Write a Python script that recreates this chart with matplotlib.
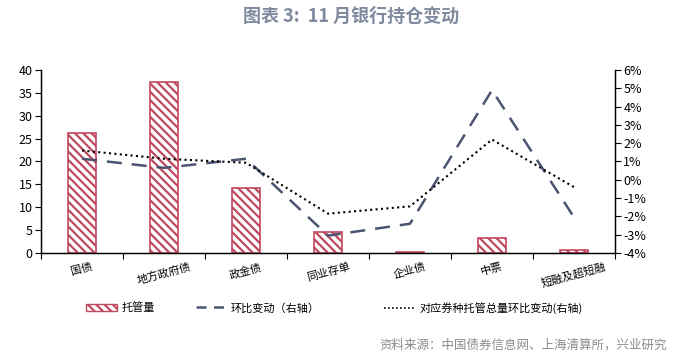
import matplotlib
matplotlib.use('Agg')
import matplotlib.pyplot as plt
from matplotlib.patches import Patch
from matplotlib.lines import Line2D
from matplotlib.ticker import FuncFormatter, MultipleLocator

plt.rcParams['font.family'] = ['Noto Sans CJK SC', 'DejaVu Sans']
plt.rcParams['hatch.linewidth'] = 1.6

# %% 数据
categories = ['国债', '地方政府债', '政金债', '同业存单', '企业债', '中票', '短融及超短融']
holdings = [26.3, 37.3, 14.1, 4.5, 0.2, 3.2, 0.6]          # 托管量
mom_change = [1.15, 0.65, 1.15, -3.05, -2.4, 4.9, -2.05]   # 环比变动(%)
total_mom = [1.6, 1.15, 0.93, -1.85, -1.45, 2.2, -0.4]     # 对应券种托管总量环比变动(%)

red = '#c0485e'
navy = '#4b5572'

# %% 图
fig = plt.figure(figsize=(6.86, 3.57), dpi=100)
ax = fig.add_axes([0.0598, 0.2913, 0.8367, 0.5127])
ax2 = ax.twinx()

x = list(range(len(categories)))
plt.rcParams['hatch.color'] = red
ax.bar(x, holdings, width=0.33, color='white', edgecolor=red, hatch='\\\\\\\\', linewidth=1.2, zorder=2)
ax.set_xlim(-0.5, len(categories) - 0.5)
ax.set_ylim(0, 40)
ax.yaxis.set_major_locator(MultipleLocator(5))

ax2.plot(x, mom_change, color=navy, lw=1.8, dashes=(6, 4), zorder=3)
ax2.plot(x, total_mom, color='black', lw=1.5, linestyle=(0, (1, 1.6)), zorder=3)
ax2.set_ylim(-4, 6)
ax2.yaxis.set_major_locator(MultipleLocator(1))
ax2.yaxis.set_major_formatter(FuncFormatter(lambda v, p: f'{v:.0f}%'))

for a in (ax, ax2):
    a.spines['top'].set_visible(False)
    a.tick_params(axis='y', labelsize=9, length=4, direction='out', pad=2)
    for s in ('left', 'right', 'bottom'):
        a.spines[s].set_linewidth(0.9)

ax.set_xticks([i - 0.5 for i in range(len(categories) + 1)])
ax.set_xticklabels([])
ax.set_xticks(x, minor=True)
ax.set_xticklabels(categories, minor=True, rotation=15, fontsize=8, ha='center')
ax.tick_params(axis='x', which='major', length=4, direction='out')
ax.tick_params(axis='x', which='minor', length=0, pad=6)

fig.text(0.512, 0.955, '图表 3:  11 月银行持仓变动', ha='center', va='center',
         fontsize=13, fontweight='bold', color='#7f8a9e')

legend_y = 1 - 308 / 357
h1 = Patch(facecolor='white', edgecolor=red, hatch='\\\\\\\\', linewidth=1.0)
h2 = Line2D([], [], color=navy, lw=1.8, dashes=(4, 3))
h3 = Line2D([], [], color='black', lw=1.2, linestyle=(0, (1, 1.4)))
for h, lab, xp in [(h1, '托管量', 0.125), (h2, '环比变动（右轴）', 0.285), (h3, '对应券种托管总量环比变动(右轴)', 0.56)]:
    leg = fig.legend([h], [lab], loc='center left', bbox_to_anchor=(xp, legend_y),
                     frameon=False, fontsize=8, handlelength=2.8, handletextpad=0.4,
                     borderaxespad=0, borderpad=0)

fig.text(0.972, 1 - 345 / 357, '资料来源：中国债券信息网、上海清算所，兴业研究', ha='right', va='center',
         fontsize=9, color='#8c8c8c')

fig.savefig('out.png', dpi=100)
